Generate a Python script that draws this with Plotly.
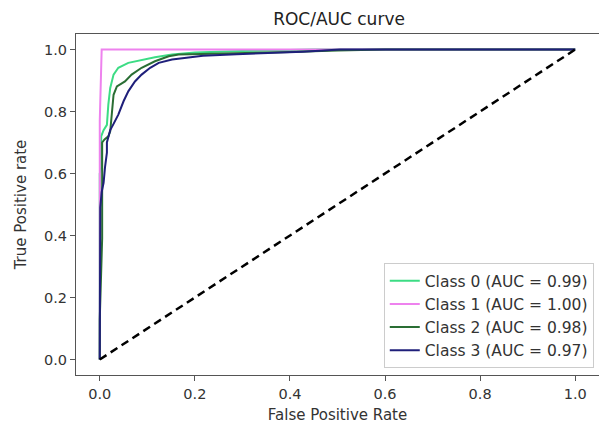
import plotly.graph_objects as go

# ---- data ----
fpr0 = [0, 0, 0.003, 0.003, 0.008, 0.012, 0.015, 0.018, 0.022, 0.029, 0.039, 0.060, 0.088, 0.116, 0.152, 0.20, 0.30, 0.45, 1.0]
tpr0 = [0, 0.60, 0.62, 0.72, 0.74, 0.75, 0.757, 0.822, 0.876, 0.919, 0.941, 0.957, 0.967, 0.975, 0.984, 0.990, 0.995, 1.0, 1.0]

fpr1 = [0, 0, 0.004, 1.0]
tpr1 = [0, 0.77, 1.0, 1.0]

fpr2 = [0, 0, 0.005, 0.005, 0.010, 0.018, 0.022, 0.025, 0.029, 0.036, 0.053, 0.067, 0.088, 0.116, 0.145, 0.166, 0.20, 0.30, 0.40, 0.50, 0.60, 1.0]
tpr2 = [0, 0.13, 0.39, 0.70, 0.71, 0.72, 0.736, 0.80, 0.854, 0.881, 0.897, 0.919, 0.941, 0.962, 0.978, 0.984, 0.985, 0.988, 0.992, 0.997, 1.0, 1.0]

fpr3 = [0, 0, 0.001, 0.004, 0.008, 0.011, 0.015, 0.015, 0.022, 0.029, 0.039, 0.050, 0.060, 0.074, 0.088, 0.106, 0.124, 0.152, 0.19, 0.217, 0.288, 0.358, 0.427, 0.505, 1.0]
tpr3 = [0, 0.42, 0.49, 0.54, 0.57, 0.62, 0.667, 0.70, 0.74, 0.76, 0.79, 0.833, 0.865, 0.897, 0.919, 0.941, 0.957, 0.968, 0.975, 0.980, 0.985, 0.988, 0.993, 1.0, 1.0]

diag_x = [0, 1]
diag_y = [0, 1]

labels = ["Class 0 (AUC = 0.99)", "Class 1 (AUC = 1.00)", "Class 2 (AUC = 0.98)", "Class 3 (AUC = 0.97)"]
colors = ["#3cdc84", "#ee82ee", "#2a6e34", "#1f1f7a"]
series = [(fpr0, tpr0), (fpr1, tpr1), (fpr2, tpr2), (fpr3, tpr3)]

tickvals = [0.0, 0.2, 0.4, 0.6, 0.8, 1.0]
ticktext = ["0.0", "0.2", "0.4", "0.6", "0.8", "1.0"]

FONT = "DejaVu Sans"
fig = go.Figure()
for (x, y), lab, col in zip(series, labels, colors):
    fig.add_trace(go.Scatter(x=x, y=y, mode="lines", name=lab,
                             line=dict(color=col, width=2)))
fig.add_trace(go.Scatter(x=diag_x, y=diag_y, mode="lines", showlegend=False,
                         line=dict(color="black", width=2.5, dash="8px,5px")))

axis_common = dict(
    range=[-0.05, 1.05], tickvals=tickvals, ticktext=ticktext,
    showline=True, mirror=True, linecolor="#555", linewidth=1.2,
    ticks="outside", ticklen=5, tickcolor="#555", tickwidth=1.2,
    showgrid=False, zeroline=False,
    tickfont=dict(family=FONT, size=14.5, color="#333"),
)
fig.update_xaxes(**axis_common,
                 title=dict(text="False Positive Rate", font=dict(family=FONT, size=15, color="#333"), standoff=8))
fig.update_yaxes(**axis_common,
                 title=dict(text="True Positive rate", font=dict(family=FONT, size=15, color="#333"), standoff=13))

fig.update_layout(
    width=599, height=427,
    margin=dict(l=76, r=0, t=34, b=52),
    paper_bgcolor="white", plot_bgcolor="white",
    title=dict(text="ROC/AUC curve", x=0.566, xanchor="center", y=0.9555, yanchor="middle",
               font=dict(family=FONT, size=17, color="#222")),
    legend=dict(x=0.99, xanchor="right", y=0.02, yanchor="bottom",
                bordercolor="#cccccc", borderwidth=1, bgcolor="white",
                font=dict(family=FONT, size=15.5, color="#333"),
                itemwidth=30),
    showlegend=True,
)
fig.write_html("out.html")
